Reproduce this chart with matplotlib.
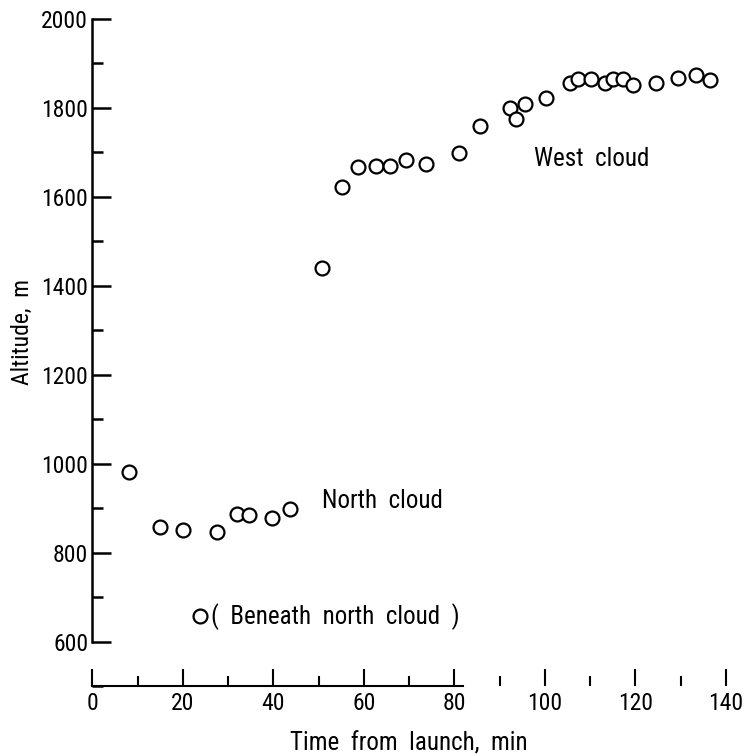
import matplotlib
matplotlib.use("Agg")
import matplotlib.pyplot as plt
from matplotlib.ticker import MultipleLocator

FONT = ['Roboto Condensed', 'DejaVu Sans']
plt.rcParams['font.family'] = FONT

# North cloud
north_t = [8.1, 15.0, 20.0, 27.5, 31.9, 34.6, 39.7, 43.7]
north_alt = [982, 858, 850, 846, 887, 884, 877, 899]

# Beneath north cloud
beneath_t = [23.8]
beneath_alt = [657]

# West cloud
west_t = [50.8, 55.2, 58.6, 62.6, 65.8, 69.4, 73.7, 81.0, 85.6, 92.2, 93.5,
          95.7, 100.3, 105.5, 107.3, 110.2, 113.3, 115.0, 117.2, 119.4, 124.5,
          129.4, 133.3, 136.4]
west_alt = [1440, 1623, 1668, 1670, 1669, 1683, 1674, 1698, 1760, 1799, 1775,
            1809, 1822, 1855, 1865, 1866, 1856, 1865, 1865, 1852, 1856,
            1868, 1875, 1863]

x_ticks = [0, 20, 40, 60, 80, 100, 120, 140]
y_ticks = [600, 800, 1000, 1200, 1400, 1600, 1800, 2000]

fig = plt.figure(figsize=(7.48, 7.54), dpi=100)
ax = fig.add_axes([0.1234, 0.0902, 0.8472, 0.8846])

mk = dict(linestyle='none', marker='o', markersize=10, markerfacecolor='white',
          markeredgecolor='black', markeredgewidth=1.6)
ax.plot(north_t, north_alt, **mk)
ax.plot(beneath_t, beneath_alt, **mk)
ax.plot(west_t, west_alt, **mk)

ax.set_xlim(0, 140)
ax.set_ylim(500, 2000)

ax.spines['top'].set_visible(False)
ax.spines['right'].set_visible(False)
ax.spines['left'].set_bounds(600, 2000)
ax.spines['bottom'].set_bounds(0, 82)
ax.spines['left'].set_linewidth(1.8)
ax.spines['bottom'].set_linewidth(1.5)

ax.set_xticks(x_ticks)
ax.set_yticks(y_ticks)
ax.xaxis.set_minor_locator(MultipleLocator(10))
ax.yaxis.set_minor_locator(MultipleLocator(100))
ax.tick_params(axis='x', which='major', direction='in', length=12, width=1.5,
               labelsize=17, pad=4, top=False)
ax.tick_params(axis='x', which='minor', direction='in', length=7, width=1.5, top=False)
ax.tick_params(axis='y', which='major', direction='in', length=14, width=1.8,
               labelsize=17, pad=3, right=False)
ax.tick_params(axis='y', which='minor', direction='in', length=8, width=1.8, right=False)

ax.set_xlabel('Time  from  launch,  min', fontsize=18, labelpad=12)
ax.set_ylabel('Altitude,  m', fontsize=17)
ax.yaxis.set_label_coords(-0.092, 0.531)

ax.text(110.4, 1685, 'West  cloud', fontsize=18, va='center', ha='center')
ax.text(64.2, 915, 'North  cloud', fontsize=18, va='center', ha='center')
ax.text(26.2, 657, '(  Beneath  north  cloud  )', fontsize=18, va='center', ha='left')

fig.savefig('out.png', dpi=100)
